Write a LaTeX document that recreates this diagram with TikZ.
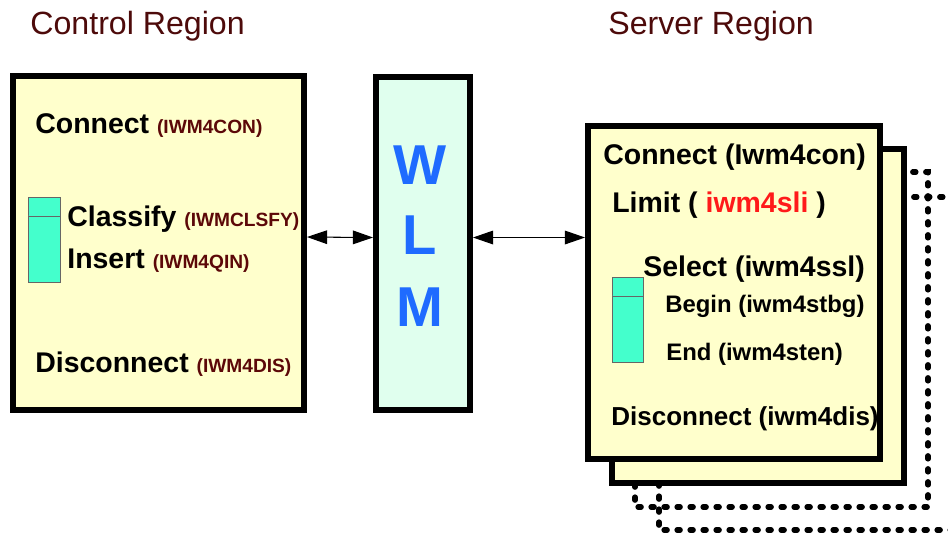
\documentclass[tikz,border=0pt]{standalone}
\usepackage{fontspec}
\setmainfont{Liberation Sans}
\usetikzlibrary{arrows.meta}
\definecolor{regred}{HTML}{4D0A0A}
\definecolor{pcol}{HTML}{5C0808}
\definecolor{boxyellow}{HTML}{FFFFCC}
\definecolor{wlmbg}{HTML}{E0FFEE}
\definecolor{barcyan}{HTML}{44FFCC}
\definecolor{wlmblue}{HTML}{1F6BFF}
\definecolor{limred}{HTML}{FF1A1A}
\newcommand{\pname}[1]{{\fontsize{10.9}{13}\selectfont\color{pcol}#1}}

\begin{document}
\begin{tikzpicture}[
  x=0.02cm,y=-0.02cm,
  >={Triangle[length=11.5pt,width=7.8pt]},
  region/.style={font=\fontsize{18.3}{22}\selectfont,text=regred,anchor=base west,inner sep=0},
  box/.style={draw=black,line width=3.4pt,fill=boxyellow,minimum width=5.84cm,minimum height=6.66cm,inner sep=0},
  dotln/.style={line width=3pt,line cap=round,dash pattern=on 1.8pt off 5.6pt},
  bar/.style={draw=black!60,line width=0.5pt,fill=barcyan},
  big/.style={font=\fontsize{16.2}{19}\selectfont\bfseries,anchor=base west,inner sep=0},
  mid/.style={font=\fontsize{13.6}{16}\selectfont\bfseries,anchor=base west,inner sep=0},
  wlmch/.style={font=\fontsize{32}{36}\selectfont\bfseries,text=wlmblue,anchor=base,inner sep=0},
]
\useasboundingbox (0,0) rectangle (948,533);
\clip (0,0) rectangle (948,533);

% ---------- titles ----------
\node[region] (ctitle) at (30,35) {Control Region};
\node[region] (stitle) at (608,35) {Server Region};

% ---------- LEFT: control region ----------
\node[box,minimum width=5.82cm,minimum height=6.68cm] (ctrl) at (158.5,243) {};
\draw[bar] (28,197) rectangle (60,282);
\draw[bar] (28,216) -- (60,216);
\node[big] (ccon) at (35,134) {Connect \pname{(IWM4CON)}};
\node[big] (ccls) at (67,227) {Classify \pname{(IWMCLSFY)}};
\node[big] (cins) at (67,269) {Insert \pname{(IWM4QIN)}};
\node[big] (cdis) at (35,373) {Disconnect \pname{(IWM4DIS)}};

% ---------- CENTER: WLM ----------
\node[draw=black,line width=3.4pt,fill=wlmbg,minimum width=1.88cm,minimum height=6.66cm,inner sep=0]
      (wlm) at (423,243.5) {};
\node[wlmch] (wW) at (420,185) {W};
\node[wlmch] (wL) at (420,255) {L};
\node[wlmch] (wM) at (420,327) {M};

% ---------- RIGHT: stacked server regions ----------
\draw[dotln] (659,197) rectangle (962,530);
\draw[dotln] (635,172) rectangle (928,507);
\node[box,minimum height=6.68cm] (srvb) at (758,316) {};
\node[box] (srv) at (734,292.5) {};
\draw[bar] (612,277) rectangle (643,362);
\draw[bar] (612,296) -- (643,296);
\node[big] (scon) at (603,165) {Connect (Iwm4con)};
\node[big] (slim) at (612,213) {Limit ( \textcolor{limred}{iwm4sli} )};
\node[big] (ssel) at (643,277) {Select (iwm4ssl)};
\node[mid] (sbeg) at (665,313) {Begin (iwm4stbg)};
\node[mid] (send) at (666,361) {End (iwm4sten)};
\node[big,font=\fontsize{14.8}{18}\selectfont\bfseries] (sdis) at (611,426) {Disconnect (iwm4dis)};

% ---------- arrows ----------
\draw[<->,line width=0.6pt] ([yshift=3.4pt]ctrl.east) -- ([yshift=3.4pt]wlm.west);
\draw[<->,line width=0.6pt] ([yshift=3.4pt]wlm.east) -- ([yshift=3.4pt]wlm.east -| srv.west);

\end{tikzpicture}
\end{document}
